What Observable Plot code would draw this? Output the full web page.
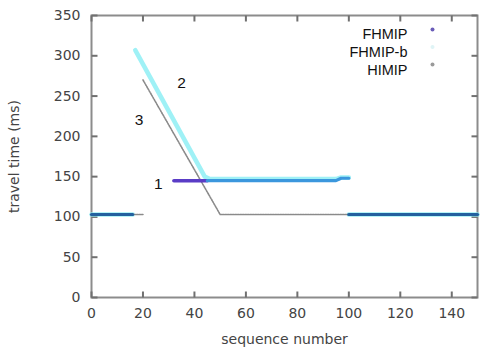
<!DOCTYPE html>
<html>
<head>
<meta charset="utf-8">
<script src="https://cdn.jsdelivr.net/npm/d3@7"></script>
<script src="https://cdn.jsdelivr.net/npm/@observablehq/plot@0.6"></script>
<style>
  html, body { margin: 0; padding: 0; background: #fff; }
  #chart { width: 481px; height: 350px; }
</style>
</head>
<body>
<div id="chart"></div>
<script>
// Series: sequence number -> travel time (ms); null marks a break
const fhmipSeq   = [0, 16, null, 32, 45, 95, 97, 100, null, 100, 150];
const fhmipTime  = [103, 103, null, 145, 145, 145, 148, 148, null, 103, 103];

const fhmipBSeq  = [0, 16, null, 17, 44, 46, 95, 97, 100, null, 100, 150];
const fhmipBTime = [103, 103, null, 307, 150, 147, 147, 149, 149, null, 103, 103];

const himipSeq   = [0, 20, null, 20, 50, 150];
const himipTime  = [103, 103, null, 270, 103, 103];

const seriesNames = ["FHMIP", "FHMIP-b", "HIMIP"];
const seriesColors = ["#5a3cc6", "#8eeef4", "#8a8a8a"];
const legendDot = ["#6a5cb8", "#dff4f6", "#9a9a9a"];

const xTicks = [0, 20, 40, 60, 80, 100, 120, 140];
const yTicks = [0, 50, 100, 150, 200, 250, 300, 350];

const annText = ["1", "2", "3"];
const annSeq  = [26, 35, 18.5];
const annTime = [141, 266, 220];

function rows(name, xs, ys) {
  let part = 0;
  const out = [];
  xs.forEach((x, i) => {
    if (x === null) { part++; return; }
    out.push({series: name, x, y: ys[i], part});
  });
  return out;
}
const fhmip = rows("FHMIP", fhmipSeq, fhmipTime);
const fhmipB = rows("FHMIP-b", fhmipBSeq, fhmipBTime);
const himip = rows("HIMIP", himipSeq, himipTime);
const ann = annText.map((t, i) => ({t, x: annSeq[i], y: annTime[i]}));

const W = 481, H = 350;
const mt = 15, mb = 53, ml = 91, mr = 4;
const fh = H - mt - mb, fw = W - ml - mr;
const xMax = 150, yMax = 350;
const tickLen = 6;
const tx = xMax * tickLen / fw, ty = yMax * tickLen / fh;
const tickCol = "#707070";
const lgFont = "Liberation Sans, Arial, sans-serif";

const legendMarks = seriesNames.flatMap((s, i) => [
  Plot.text([s], {frameAnchor: "top-right", text: d => d, textAnchor: "end",
    dx: -(W - mr - 407), dy: 28 - mt + 18 * i, fontSize: 14.5, fill: "#111", fontFamily: lgFont}),
  Plot.dot([s], {frameAnchor: "top-right", dx: -(W - mr - 432), dy: 29 - mt + 17.5 * i,
    r: 2, fill: legendDot[i], stroke: "none"})
]);

const tickOpts = {stroke: tickCol, strokeWidth: 2, markerStart: "none", markerEnd: "none"};

const chart = Plot.plot({
  width: W, height: H,
  marginTop: mt, marginBottom: mb, marginLeft: ml, marginRight: mr,
  style: {fontFamily: "DejaVu Sans, sans-serif", background: "#fff"},
  x: {domain: [0, xMax]},
  y: {domain: [0, yMax]},
  marks: [
    Plot.frame({stroke: "#8c8c8c", strokeWidth: 2}),
    // inward ticks on all four sides
    Plot.link(xTicks, {x1: d => d, x2: d => d, y1: () => 0, y2: () => ty, ...tickOpts}),
    Plot.link(xTicks, {x1: d => d, x2: d => d, y1: () => yMax - ty, y2: () => yMax, ...tickOpts}),
    Plot.link(yTicks, {y1: d => d, y2: d => d, x1: () => 0, x2: () => tx, ...tickOpts}),
    Plot.link(yTicks, {y1: d => d, y2: d => d, x1: () => xMax - tx, x2: () => xMax, ...tickOpts}),
    Plot.axisX({ticks: xTicks, tickSize: 0, tickPadding: 11, fontSize: 14, fill: "#444",
      label: "sequence number", labelAnchor: "center", labelArrow: "none", labelOffset: 46}),
    Plot.axisY({ticks: yTicks, tickSize: 0, tickPadding: 11, fontSize: 14, fill: "#444",
      label: "travel time (ms)", labelAnchor: "center", labelArrow: "none", labelOffset: 82}),
    // series
    Plot.line(fhmipB, {x: "x", y: "y", z: "part", stroke: seriesColors[1], strokeWidth: 4.5, strokeOpacity: 0.85}),
    Plot.line(himip, {x: "x", y: "y", z: "part", stroke: seriesColors[2], strokeWidth: 1.6, strokeDasharray: "1.5,1"}),
    Plot.line(fhmip.filter(d => d.x >= 32 && d.x <= 45 && d.y > 120),
      {x: "x", y: "y", stroke: seriesColors[0], strokeWidth: 3.5}),
    Plot.line(fhmip.filter(d => !(d.x >= 32 && d.x < 45 && d.y > 120)),
      {x: "x", y: "y", z: "part", stroke: d => d.y < 120 ? "#24619f" : "#3b97dd", strokeWidth: 3.2}),
    // annotations
    Plot.text(ann, {x: "x", y: "y", text: "t", fontSize: 15.5, fill: "#111", fontFamily: lgFont}),
    ...legendMarks
  ]
});
document.getElementById("chart").appendChild(chart);
</script>
</body>
</html>
